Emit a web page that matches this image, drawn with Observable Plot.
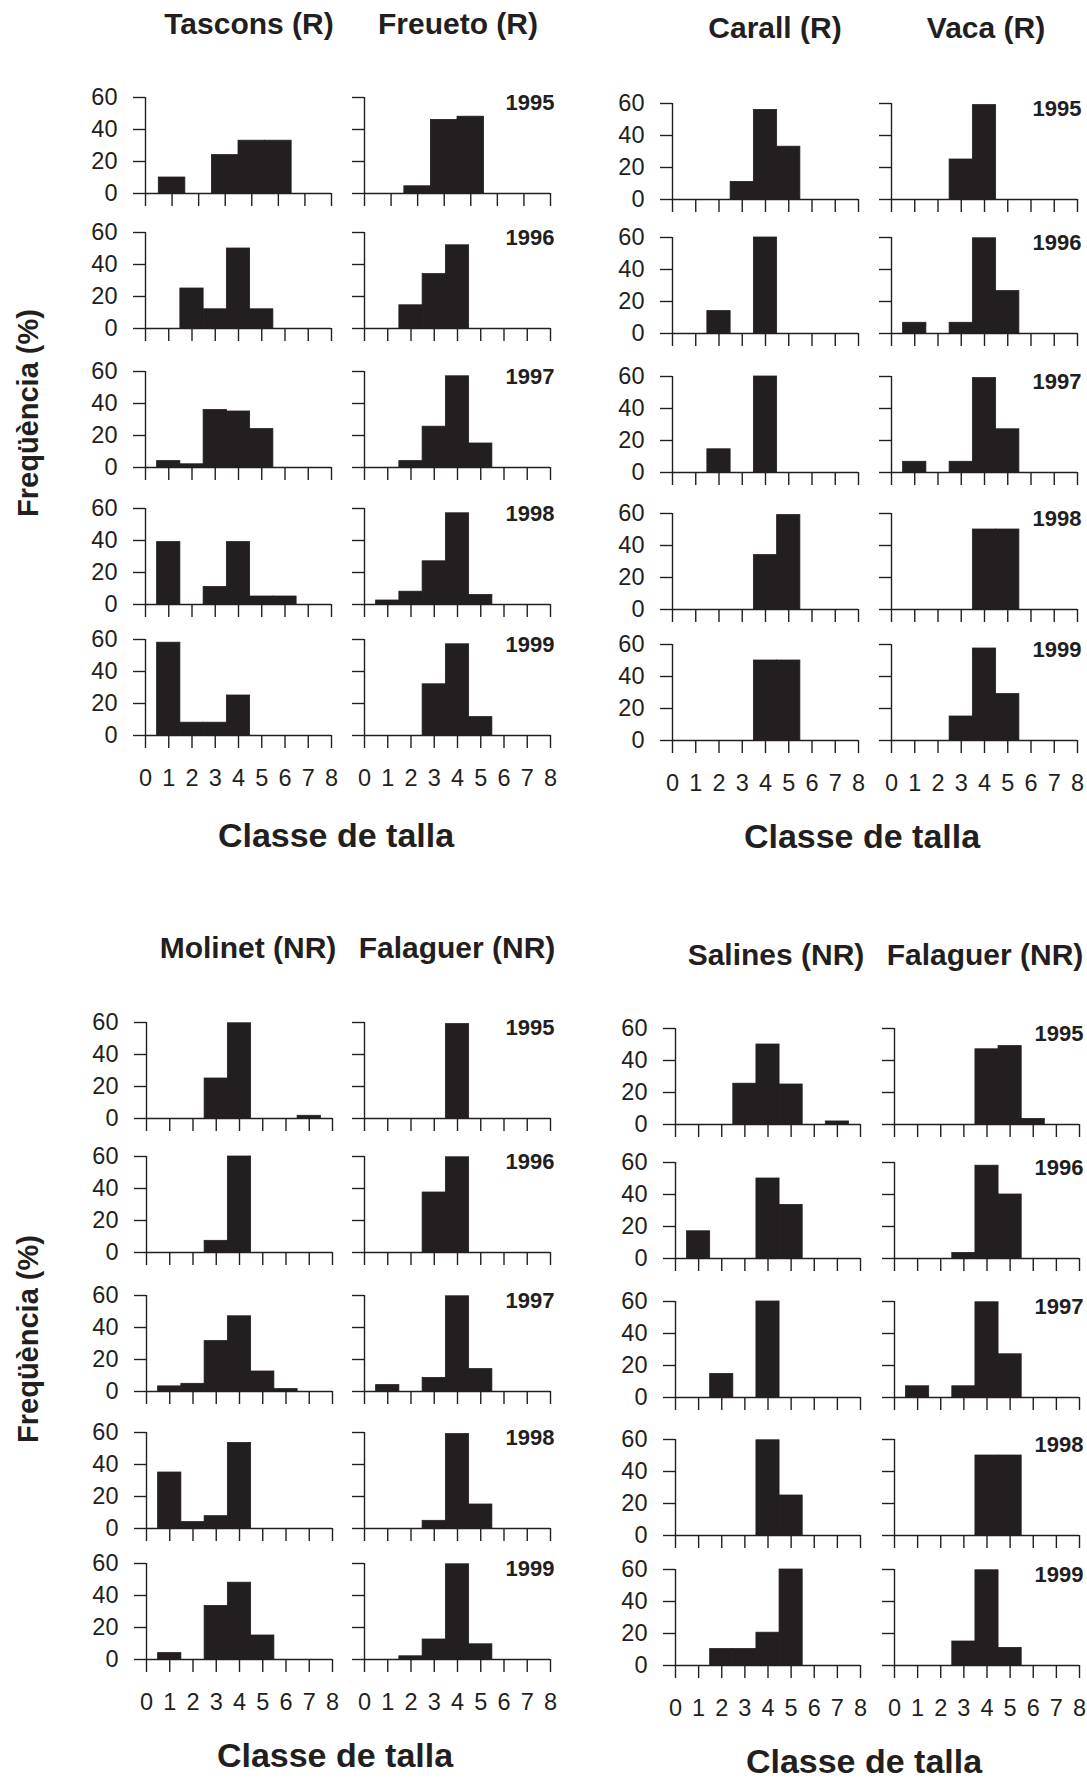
<!DOCTYPE html>
<html><head><meta charset="utf-8">
<script src="https://cdn.jsdelivr.net/npm/d3@7"></script>
<script src="https://cdn.jsdelivr.net/npm/@observablehq/plot@0.6"></script>
<style>
html,body{margin:0;padding:0;background:#fff;}
#root{position:relative;width:1087px;height:1780px;overflow:hidden;background:#fff;}
#root svg{position:absolute;background:transparent;overflow:visible;}
#root svg g[aria-label$="tick"] path, #root svg g.tick line{stroke-width:1.4px;}
</style></head><body><div id="root"></div>
<script>
// ---- data: percentage frequency per size class (0..8) for each year ----
const years = [1995, 1996, 1997, 1998, 1999];
const sizeClasses = [0, 1, 2, 3, 4, 5, 6, 7, 8];

const tascons = [
  [0, 10, 0, 24, 33, 33, 0, 0, 0],
  [0, 0, 25, 12, 50, 12, 0, 0, 0],
  [0, 4, 2, 36, 35, 24, 0, 0, 0],
  [0, 39, 0, 11, 39, 5, 5, 0, 0],
  [0, 58, 8, 8, 25, 0, 0, 0, 0]
];
const freueto = [
  [0, 0, 4.5, 46, 48, 0, 0, 0, 0],
  [0, 0, 14.5, 34, 52, 0, 0, 0, 0],
  [0, 0, 4, 25.5, 57, 15, 0, 0, 0],
  [0, 2.5, 8, 27, 57, 6, 0, 0, 0],
  [0, 0, 0, 32, 57, 11.5, 0, 0, 0]
];
const carall = [
  [0, 0, 0, 11, 56, 33, 0, 0, 0],
  [0, 0, 14, 0, 60, 0, 0, 0, 0],
  [0, 0, 14.5, 0, 60, 0, 0, 0, 0],
  [0, 0, 0, 0, 34, 59, 0, 0, 0],
  [0, 0, 0, 0, 50, 50, 0, 0, 0]
];
const vaca = [
  [0, 0, 0, 25, 59, 0, 0, 0, 0],
  [0, 6.7, 0, 6.7, 59.5, 26.5, 0, 0, 0],
  [0, 6.7, 0, 6.7, 59, 27, 0, 0, 0],
  [0, 0, 0, 0, 50, 50, 0, 0, 0],
  [0, 0, 0, 15, 57.5, 29, 0, 0, 0]
];
const molinet = [
  [0, 0, 0, 25, 59.5, 0, 0, 1.7, 0],
  [0, 0, 0, 7.3, 60, 0, 0, 0, 0],
  [0, 3.2, 4.8, 31.5, 47, 12.5, 1.5, 0, 0],
  [0, 35, 4, 7.7, 53.5, 0, 0, 0, 0],
  [0, 4, 0, 33.5, 48, 15, 0, 0, 0]
];
const falaguerA = [
  [0, 0, 0, 0, 59, 0, 0, 0, 0],
  [0, 0, 0, 37.5, 59.5, 0, 0, 0, 0],
  [0, 4, 0, 8.5, 59.5, 14, 0, 0, 0],
  [0, 0, 0, 4.8, 59, 15, 0, 0, 0],
  [0, 0, 2, 12.5, 59.5, 9.5, 0, 0, 0]
];
const salines = [
  [0, 0, 0, 25.5, 50, 25, 0, 1.9, 0],
  [0, 17, 0, 0, 50, 33.5, 0, 0, 0],
  [0, 0, 14.7, 0, 60, 0, 0, 0, 0],
  [0, 0, 0, 0, 59.5, 25, 0, 0, 0],
  [0, 0, 10.3, 10.3, 20.5, 60, 0, 0, 0]
];
const falaguerB = [
  [0, 0, 0, 0, 47, 49, 3.5, 0, 0],
  [0, 0, 0, 3.5, 58, 40, 0, 0, 0],
  [0, 7, 0, 7, 59.5, 27, 0, 0, 0],
  [0, 0, 0, 0, 50, 50, 0, 0, 0],
  [0, 0, 0, 15, 59.5, 11, 0, 0, 0]
];
const yTicks = [0, 20, 40, 60];
const xLabel = "Classe de talla";
const yLabel = "Freqüència (%)";

// ---- layout of the four blocks ----
const blocks = [
  {sites: [["Tascons (R)", tascons], ["Freueto (R)", freueto]], axisX: [145, 364], w: 186,
   zero: [193, 328, 467, 604, 735], firstRowMax: 7, titleX: [249, 458], titleY: 34,
   xlabX: 336, xlabY: 847, ylab: true, ylabY: 413},
  {sites: [["Carall (R)", carall], ["Vaca (R)", vaca]], axisX: [672, 891], w: 186,
   zero: [199, 333, 472, 609, 740], firstRowMax: 8, titleX: [775, 986], titleY: 38,
   xlabX: 862, xlabY: 848, ylab: false},
  {sites: [["Molinet (NR)", molinet], ["Falaguer (NR)", falaguerA]], axisX: [146, 364], w: 186,
   zero: [1118, 1252, 1391, 1528, 1659], firstRowMax: 8, titleX: [248, 457], titleY: 958,
   xlabX: 335, xlabY: 1767, ylab: true, ylabY: 1339},
  {sites: [["Salines (NR)", salines], ["Falaguer (NR)", falaguerB]], axisX: [675, 894], w: 185,
   zero: [1124, 1258, 1397, 1535, 1665], firstRowMax: 8, titleX: [776, 985], titleY: 965,
   xlabX: 864, xlabY: 1773, ylab: false}
];

const INK = "#231f20";
const FONT = "'Liberation Sans', Arial, Helvetica, sans-serif";
const ML = 70, MR = 14, MT = 12, MB = 60, H = 96;
const root = document.getElementById("root");

blocks.forEach(b => {
  b.sites.forEach(([name, rows], c) => {
    rows.forEach((vals, r) => {
      const xmax = r === 0 ? b.firstRowMax : 8;
      const bars = sizeClasses.filter(k => k <= xmax).map(k => ({k, v: vals[k]})).filter(d => d.v > 0);
      const marks = [
        Plot.rectY(bars, {x1: d => d.k - 0.5, x2: d => d.k + 0.5, y: "v", fill: INK, stroke: INK, strokeWidth: 0.8}),
        Plot.ruleY([0], {stroke: INK, strokeWidth: 1.4}),
        Plot.ruleX([0], {y1: 0, y2: 60, stroke: INK, strokeWidth: 1.4})
      ];
      if (c === 1) marks.push(Plot.text([years[r]], {text: d => String(d), frameAnchor: "top-right", dx: 4, dy: -3,
        lineAnchor: "top", fontWeight: "bold", fontSize: 22, fill: INK}));
      const svg = Plot.plot({
        width: ML + b.w + MR, height: MT + H + MB,
        marginLeft: ML, marginRight: MR, marginTop: MT, marginBottom: MB,
        style: {background: "transparent", color: INK, fontSize: "23.5px", fontFamily: FONT, overflow: "visible"},
        x: {domain: [0, xmax], ticks: d3.range(0, xmax + 1), tickSize: 13, tickPadding: 21,
            tickFormat: r === 4 ? d => String(d) : () => "", label: null},
        y: {domain: [0, 60], ticks: yTicks, tickSize: 12, tickPadding: 16,
            tickFormat: c === 0 ? d => String(d) : () => "", label: null},
        marks
      });
      svg.style.left = (b.axisX[c] - ML) + "px";
      svg.style.top = (b.zero[r] - H - MT) + "px";
      svg.style.position = "absolute";
      root.appendChild(svg);
    });
  });
});

// ---- titles and axis labels ----
const ov = d3.select(root).append("svg")
  .attr("width", 1087).attr("height", 1780)
  .style("left", "0px").style("top", "0px").style("pointer-events", "none")
  .attr("font-family", FONT).attr("fill", INK).attr("font-weight", "bold");
blocks.forEach(b => {
  b.sites.forEach(([name], c) => {
    ov.append("text").attr("x", b.titleX[c]).attr("y", b.titleY).attr("text-anchor", "middle")
      .attr("font-size", 30).text(name);
  });
  ov.append("text").attr("x", b.xlabX).attr("y", b.xlabY).attr("text-anchor", "middle")
    .attr("font-size", 34).text(xLabel);
  if (b.ylab) {
    ov.append("text").attr("transform", `translate(38,${b.ylabY}) rotate(-90)`)
      .attr("text-anchor", "middle").attr("font-size", 29).text(yLabel);
  }
});
</script></body></html>
